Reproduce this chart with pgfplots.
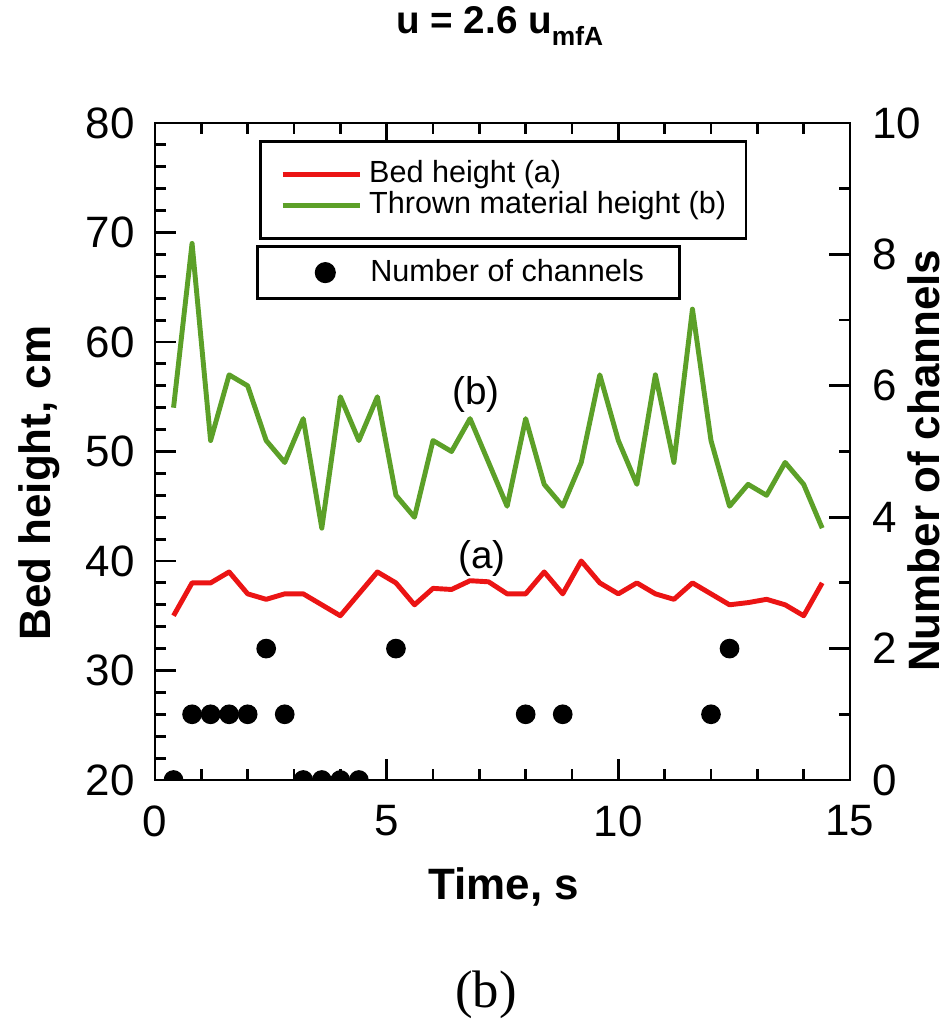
\documentclass[border=0pt]{standalone}
\usepackage{fontspec}
\setmainfont{Liberation Sans}
\newfontfamily\capserif{Liberation Serif}
\usepackage{pgfplots}
\usepackage{pgfplotstable}
\pgfplotsset{compat=1.18}

\definecolor{bedred}{RGB}{235,20,20}
\definecolor{thrgreen}{RGB}{92,160,40}

% time (s), bed height (a), thrown material height (b), both in cm
\pgfplotstableread{
t    bed   thrown
0.4  35    54
0.8  38    69
1.2  38    51
1.6  39    57
2.0  37    56
2.4  36.5  51
2.8  37    49
3.2  37    53
3.6  36    43
4.0  35    55
4.4  37    51
4.8  39    55
5.2  38    46
5.6  36    44
6.0  37.5  51
6.4  37.4  50
6.8  38.2  53
7.2  38.1  49
7.6  37    45
8.0  37    53
8.4  39    47
8.8  37    45
9.2  40    49
9.6  38    57
10.0 37    51
10.4 38    47
10.8 37    57
11.2 36.5  49
11.6 38    63
12.0 37    51
12.4 36    45
12.8 36.2  47
13.2 36.5  46
13.6 36    49
14.0 35    47
14.4 38    43
}\heights

% number of channels
\pgfplotstableread{
t    n
0.4  0
0.8  1
1.2  1
1.6  1
2.0  1
2.4  2
2.8  1
3.2  0
3.6  0
4.0  0
4.4  0
5.2  2
8.0  1
8.8  1
12.0 1
12.4 2
}\channels

\begin{document}
\begin{tikzpicture}
\pgfplotsset{
  base/.style={
    scale only axis, width=6.95cm, height=6.57cm,
    xmin=0, xmax=15,
    axis line style={line width=0.8pt},
    every tick/.style={black, line width=0.8pt},
    tick align=inside,
    major tick length=0.21cm, minor tick length=0.11cm,
    tick label style={font=\fontsize{12.5}{15}\selectfont},
    label style={font=\fontsize{12.5}{15}\selectfont\bfseries},
    /pgf/number format/assume math mode=true,
    legend style={draw=black, line width=0.8pt, anchor=north west,
      font=\fontsize{8.7}{10.4}\selectfont, cells={anchor=west},
      nodes={inner xsep=2pt, inner ysep=0.5pt}},
  },
}
\begin{axis}[base,
  ymin=20, ymax=80, ytick={20,30,...,80}, minor y tick num=4,
  xtick={0,5,10,15}, minor x tick num=4,
  xtick pos=both, ytick pos=left,
  xticklabel style={yshift=-0.13cm},
  yticklabel style={xshift=-0.08cm},
  xlabel={Time, s}, ylabel={Bed height, cm},
  xlabel style={at={(axis description cs:0.502,-0.1826)}, anchor=base},
  ylabel style={at={(axis description cs:-0.151,0.452)}, anchor=base},
  title={\bfseries u = 2.6 u\raisebox{-0.55ex}{\fontsize{7.5}{9}\selectfont mfA}},
  title style={at={(axis description cs:0.496,1.1035)}, anchor=base,
    font=\fontsize{11}{13}\selectfont},
  legend style={at={(0.150,0.974)}, inner xsep=3.7pt, inner ysep=5pt},
  legend image code/.code={\path[draw=none] (0cm,0cm); \draw[#1,line width=1.4pt] (0.09cm,0cm) -- (0.86cm,0cm);},
]
\addplot[bedred, line width=1.4pt, line join=round] table[x=t,y=bed]{\heights};
\addlegendentry{Bed height (a)}
\addplot[thrgreen, line width=1.4pt, line join=round] table[x=t,y=thrown]{\heights};
\addlegendentry{Thrown material height (b)}
\node[font=\fontsize{11}{13}\selectfont] at (axis cs:6.93,55.2) {(b)};
\node[font=\fontsize{11}{13}\selectfont] at (axis cs:7.06,40.2) {(a)};
\end{axis}
\begin{axis}[base,
  axis y line*=right, axis x line=none,
  ymin=0, ymax=10, ytick={0,2,...,10}, minor y tick num=1,
  yticklabel style={xshift=0.1cm},
  ylabel={Number of channels},
  ylabel style={at={(axis description cs:1.129,0.486)}, anchor=base},
  clip marker paths=true,
  legend style={at={(0.145,0.814)}, inner xsep=8pt, inner ysep=3pt},
  legend image code/.code={\path[draw=none,fill=none] (0cm,0cm) -- (0.78cm,0cm); \draw[#1,only marks] plot coordinates {(0.40cm,0cm)};},
]
\addplot[only marks, mark=*, mark size=2.6pt, black] table[x=t,y=n]{\channels};
\addlegendentry{Number of channels}
\end{axis}
\node[font=\capserif\fontsize{15}{18}\selectfont] at (3.31,-2.15) {(b)};
\pgfresetboundingbox
\path[use as bounding box] (-1.55,-2.42) rectangle (7.93,7.80);
\end{tikzpicture}
\end{document}
